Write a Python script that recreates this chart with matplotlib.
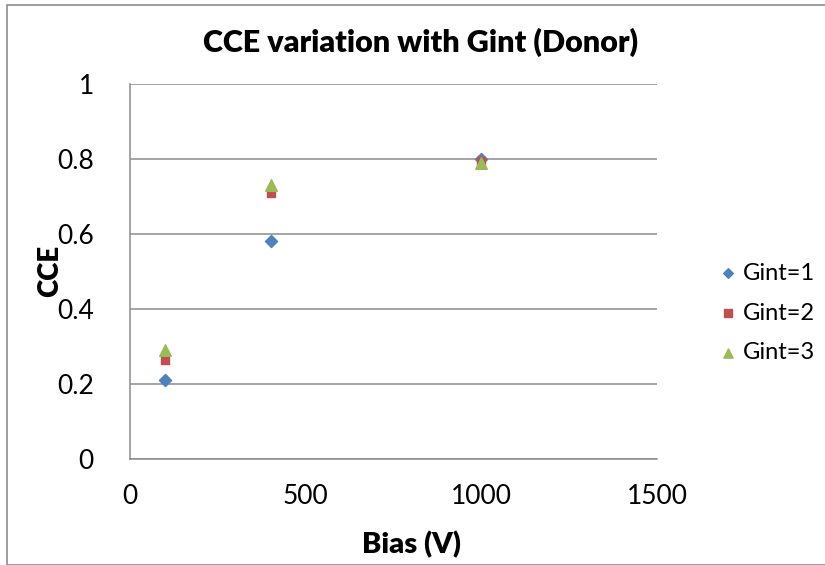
import matplotlib
matplotlib.use("Agg")
import matplotlib.pyplot as plt
from matplotlib.patches import Rectangle

bias = [100, 400, 1000]
gint1 = [0.21, 0.58, 0.80]
gint2 = [0.265, 0.71, 0.795]
gint3 = [0.29, 0.73, 0.79]
labels = ["Gint=1", "Gint=2", "Gint=3"]
xticks = [0, 500, 1000, 1500]
yticks = [0, 0.2, 0.4, 0.6, 0.8, 1]

plt.rcParams['font.family'] = ['Lato', 'DejaVu Sans']

fig = plt.figure(figsize=(8.25, 5.65), dpi=100)
fig.patches.append(Rectangle((7/825, 0), 2, (565-5)/565, transform=fig.transFigure,
                             fill=False, edgecolor='#8c8c8c', linewidth=1.2))
ax = fig.add_axes([130/825, (565-459)/565, 527/825, 375/565])

ax.scatter(bias, gint1, marker='D', s=38, color='#4F81BD', label=labels[0], zorder=3)
ax.scatter(bias, gint2, marker='s', s=40, color='#C0504D', label=labels[1], zorder=3)
ax.scatter(bias, gint3, marker='^', s=70, color='#9BBB59', label=labels[2], zorder=4)

ax.set_xlim(0, 1500)
ax.set_ylim(0, 1)
ax.set_xticks(xticks)
ax.set_yticks(yticks)
ax.set_xticklabels([str(t) for t in xticks])
ax.set_yticklabels([f"{t:g}" for t in yticks])
ax.tick_params(axis='both', length=0, labelsize=19, colors='black')
ax.tick_params(axis='x', pad=18)
ax.tick_params(axis='y', pad=26)
ax.grid(axis='y', color='#8c8c8c', linewidth=1.1)
ax.set_axisbelow(True)
for s in ['top', 'right']:
    ax.spines[s].set_visible(False)
for s in ['left', 'bottom']:
    ax.spines[s].set_color('#8c8c8c')
    ax.spines[s].set_linewidth(1.1)

fig.text(421/825, 1 - 42/565, "CCE variation with Gint (Donor)", ha='center', va='center',
         fontsize=22, fontweight='heavy')
fig.text(50/825, 1 - 271/565, "CCE", rotation=90, ha='center', va='center',
         fontsize=20, fontweight='heavy')
fig.text(412/825, 1 - 545/565, "Bias (V)", ha='center', va='center',
         fontsize=21, fontweight='heavy')

leg = ax.legend(loc='center left', bbox_to_anchor=(716/825, 1 - 313/565),
                bbox_transform=fig.transFigure, frameon=False, fontsize=17,
                handletextpad=0.15, labelspacing=0.8, handlelength=1.0, scatterpoints=1,
                markerscale=0.8, borderpad=0, borderaxespad=0)

fig.savefig("out.png", dpi=100)
